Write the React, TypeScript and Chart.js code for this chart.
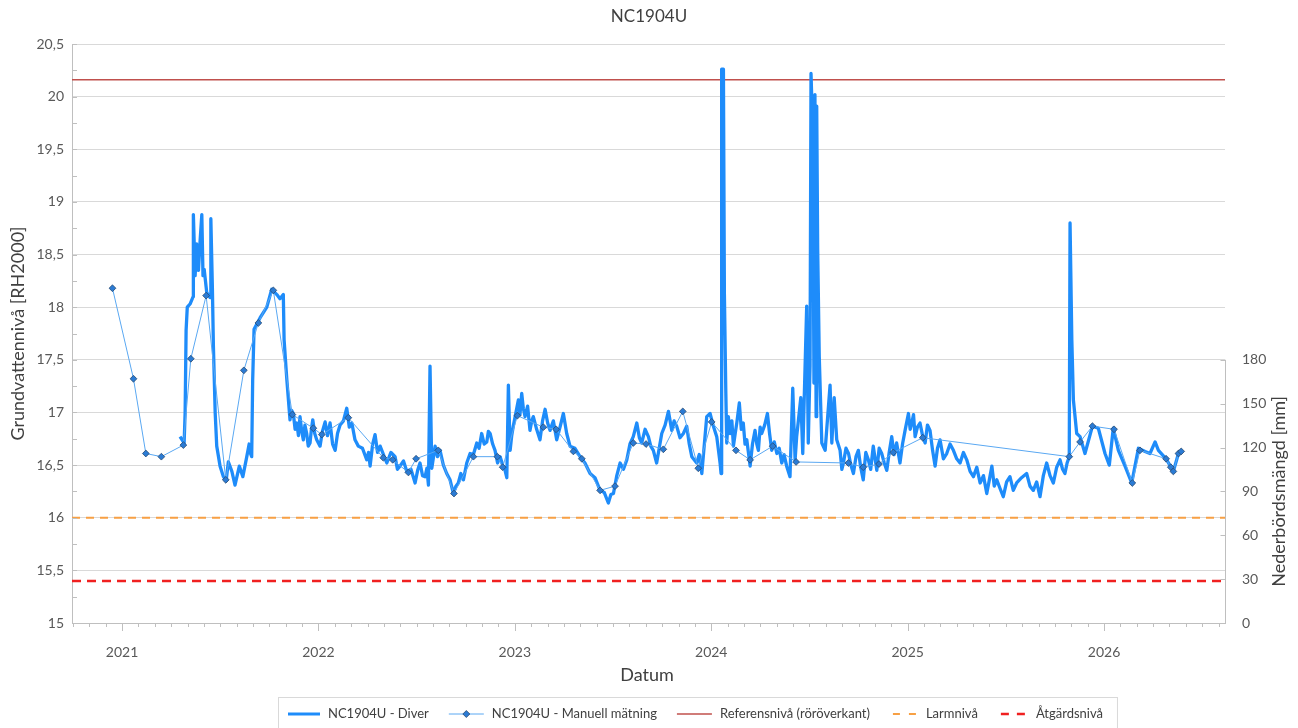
import React, { useEffect, useRef } from "react";
import { Chart, registerables } from "chart.js";
Chart.register(...registerables);

const FONT = "Lato, 'Noto Sans', sans-serif";

const chartTitle = "NC1904U";
const yTitle = "Grundvattennivå [RH2000]";
const y2Title = "Nederbördsmängd [mm]";
const xTitle = "Datum";
const seriesNames = [
  "NC1904U - Diver",
  "NC1904U - Manuell mätning",
  "Referensnivå (röröverkant)",
  "Larmnivå",
  "Åtgärdsnivå",
];

const xMin = 2020.745;
const xMax = 2026.616;
const yMin = 15;
const yMax = 20.5;
const y2Min = 0;
const y2Max = 396;
const yearLabels = [2021, 2022, 2023, 2024, 2025, 2026];
const y2Ticks = [0, 30, 60, 90, 120, 150, 180];

const referensLevel = 20.16;
const larmLevel = 16.0;
const atgardLevel = 15.4;

// Diver (logger) series, decimal year / level
const d21T = [2021.295,2021.316,2021.321,2021.326,2021.332,2021.346,2021.362,2021.363,2021.372,2021.380,2021.389,2021.397,2021.406,2021.412,2021.418,2021.431,2021.448,2021.452,2021.460,2021.465,2021.474,2021.482,2021.499,2021.516,2021.530,2021.541,2021.559,2021.575,2021.597,2021.615,2021.635,2021.647,2021.652,2021.660,2021.665,2021.672,2021.703,2021.737,2021.762,2021.788,2021.804,2021.821,2021.825,2021.839,2021.855,2021.863,2021.872,2021.881,2021.890,2021.898,2021.906,2021.915,2021.923,2021.931,2021.940,2021.948,2021.957,2021.964,2021.971,2021.981,2021.991];
const d21V = [16.77,16.71,17.00,17.78,18.00,18.03,18.10,18.88,18.30,18.60,18.35,18.62,18.88,18.30,18.36,18.14,18.09,18.84,18.17,17.63,17.00,16.68,16.49,16.39,16.35,16.53,16.44,16.31,16.49,16.39,16.58,16.70,16.62,16.58,17.31,17.79,17.90,18.00,18.17,18.12,18.08,18.12,17.69,17.31,16.93,17.02,16.99,16.84,16.90,16.78,16.96,16.82,16.74,16.88,16.80,16.68,16.71,16.84,16.93,16.80,16.74];

const d22T = [2022.008,2022.020,2022.034,2022.046,2022.059,2022.072,2022.085,2022.097,2022.110,2022.127,2022.144,2022.157,2022.170,2022.186,2022.203,2022.224,2022.246,2022.255,2022.263,2022.276,2022.288,2022.301,2022.314,2022.331,2022.348,2022.369,2022.390,2022.402,2022.415,2022.433,2022.450,2022.471,2022.492,2022.505,2022.517,2022.530,2022.543,2022.552,2022.560,2022.568,2022.577,2022.594,2022.606,2022.619,2022.636,2022.653,2022.670,2022.687,2022.700,2022.712,2022.725,2022.738,2022.755,2022.772,2022.789,2022.806,2022.818,2022.831,2022.844,2022.857,2022.865,2022.874,2022.887,2022.899,2022.912,2022.925,2022.938,2022.950,2022.959,2022.967,2022.976,2022.984,2022.992];
const d22V = [16.68,16.82,16.91,16.78,16.90,16.70,16.64,16.80,16.88,16.92,17.04,16.86,16.90,16.74,16.68,16.66,16.55,16.62,16.49,16.70,16.79,16.62,16.68,16.60,16.52,16.62,16.58,16.46,16.49,16.54,16.44,16.46,16.33,16.45,16.52,16.40,16.39,16.47,16.31,17.44,16.47,16.68,16.58,16.64,16.50,16.42,16.36,16.23,16.30,16.33,16.42,16.36,16.52,16.61,16.60,16.71,16.66,16.80,16.70,16.72,16.82,16.80,16.70,16.64,16.52,16.58,16.50,16.45,16.38,17.26,16.64,16.78,16.87];

const d23T = [2023.018,2023.026,2023.035,2023.043,2023.052,2023.065,2023.077,2023.086,2023.094,2023.111,2023.128,2023.141,2023.154,2023.167,2023.179,2023.196,2023.213,2023.230,2023.247,2023.264,2023.281,2023.306,2023.332,2023.357,2023.383,2023.408,2023.434,2023.455,2023.476,2023.489,2023.502,2023.519,2023.536,2023.553,2023.570,2023.586,2023.603,2023.621,2023.634,2023.646,2023.663,2023.680,2023.692,2023.705,2023.722,2023.735,2023.748,2023.765,2023.782,2023.799,2023.811,2023.824,2023.841,2023.858,2023.875,2023.888,2023.901,2023.926,2023.939,2023.952,2023.977,2023.994];
const d23V = [17.12,16.98,17.18,17.04,16.96,17.06,16.83,16.92,16.96,16.84,16.74,16.92,17.03,16.90,16.83,16.92,16.74,16.86,16.99,16.80,16.68,16.66,16.58,16.52,16.42,16.38,16.26,16.24,16.14,16.22,16.23,16.40,16.52,16.46,16.55,16.70,16.77,16.90,16.76,16.71,16.84,16.77,16.68,16.64,16.52,16.66,16.80,16.88,17.01,16.83,16.92,16.87,16.76,16.80,16.87,16.70,16.58,16.52,16.60,16.42,16.96,16.99];

const d24T = [2024.011,2024.028,2024.045,2024.050,2024.053,2024.062,2024.067,2024.074,2024.079,2024.087,2024.096,2024.105,2024.113,2024.122,2024.130,2024.143,2024.153,2024.163,2024.172,2024.181,2024.198,2024.210,2024.223,2024.232,2024.240,2024.249,2024.257,2024.272,2024.286,2024.297,2024.308,2024.321,2024.334,2024.346,2024.359,2024.371,2024.384,2024.401,2024.415,2024.427,2024.435,2024.456,2024.466,2024.486,2024.494,2024.503,2024.508,2024.517,2024.523,2024.528,2024.534,2024.537,2024.542,2024.550,2024.563,2024.580,2024.605,2024.614,2024.626,2024.639,2024.656,2024.665,2024.673,2024.686,2024.699,2024.711,2024.724,2024.737,2024.749,2024.761,2024.774,2024.787,2024.800,2024.812,2024.825,2024.843,2024.855,2024.868,2024.881,2024.894,2024.906,2024.919,2024.931,2024.944,2024.961,2024.974,2024.987];
const d24V = [16.87,16.77,16.52,16.42,20.26,20.26,18.12,17.21,16.71,16.96,16.80,16.92,16.68,16.80,16.90,17.09,16.84,16.90,16.70,16.74,16.49,16.70,16.83,16.70,16.64,16.86,16.80,16.88,16.99,16.80,16.64,16.72,16.61,16.66,16.52,16.60,16.49,16.39,17.23,16.55,16.77,17.14,16.61,18.01,16.71,17.44,20.22,19.65,17.28,20.02,16.96,19.91,18.55,17.53,16.71,16.64,17.26,16.71,17.14,16.74,16.64,16.46,16.52,16.66,16.61,16.50,16.42,16.58,16.64,16.48,16.36,16.62,16.55,16.46,16.68,16.45,16.66,16.61,16.52,16.45,16.62,16.77,16.60,16.71,16.52,16.70,16.83];

const d25T = [2025.004,2025.013,2025.021,2025.030,2025.038,2025.050,2025.063,2025.076,2025.089,2025.101,2025.114,2025.127,2025.140,2025.152,2025.165,2025.182,2025.199,2025.216,2025.233,2025.250,2025.267,2025.284,2025.301,2025.318,2025.335,2025.352,2025.369,2025.386,2025.403,2025.416,2025.429,2025.441,2025.454,2025.470,2025.487,2025.504,2025.521,2025.538,2025.555,2025.580,2025.606,2025.623,2025.640,2025.657,2025.674,2025.691,2025.708,2025.725,2025.742,2025.759,2025.776,2025.789,2025.801,2025.812,2025.823,2025.827,2025.836,2025.844,2025.861,2025.878,2025.903,2025.941,2025.971];
const d25V = [16.99,16.84,16.90,16.98,16.77,16.86,16.90,16.78,16.71,16.88,16.83,16.64,16.49,16.66,16.74,16.56,16.61,16.70,16.64,16.56,16.52,16.62,16.55,16.44,16.39,16.48,16.33,16.40,16.23,16.36,16.49,16.30,16.36,16.28,16.20,16.34,16.39,16.26,16.33,16.38,16.42,16.30,16.26,16.34,16.20,16.40,16.52,16.40,16.33,16.48,16.55,16.46,16.42,16.52,16.58,18.80,17.69,17.12,16.80,16.77,16.61,16.87,16.85];

const d26T = [2026.005,2026.027,2026.047,2026.073,2026.107,2026.141,2026.175,2026.209,2026.234,2026.260,2026.277,2026.316,2026.353,2026.379,2026.396];
const d26V = [16.61,16.50,16.85,16.64,16.49,16.33,16.66,16.63,16.61,16.72,16.64,16.56,16.44,16.61,16.64];

// Manual measurements
const manualT = [2020.951,2021.058,2021.121,2021.200,2021.312,2021.350,2021.428,2021.528,2021.620,2021.694,2021.770,2021.867,2021.974,2022.017,2022.152,2022.330,2022.378,2022.458,2022.497,2022.610,2022.690,2022.789,2022.911,2022.938,2023.013,2023.145,2023.210,2023.298,2023.341,2023.434,2023.510,2023.603,2023.668,2023.756,2023.855,2023.934,2024.002,2024.126,2024.198,2024.313,2024.432,2024.698,2024.774,2024.854,2024.927,2025.077,2025.823,2025.878,2025.941,2026.051,2026.144,2026.183,2026.316,2026.340,2026.353,2026.379,2026.393];
const manualV = [18.18,17.32,16.61,16.58,16.69,17.51,18.11,16.36,17.40,17.85,18.16,16.98,16.85,16.79,16.95,16.57,16.55,16.43,16.56,16.64,16.23,16.58,16.58,16.48,16.97,16.86,16.84,16.63,16.56,16.26,16.30,16.71,16.70,16.65,17.01,16.47,16.91,16.64,16.55,16.68,16.53,16.52,16.48,16.51,16.62,16.76,16.58,16.72,16.87,16.84,16.33,16.64,16.56,16.48,16.44,16.61,16.63];

const C_DIVER = "#1E8CFA";
const C_MAN_LINE = "#5AA8F2";
const C_MAN_FILL = "#2B7BD4";
const C_MAN_EDGE = "#2A4A70";
const C_REF = "#C0504D";
const C_LARM = "#F7A044";
const C_ATG = "#F02020";
const C_GRID = "#D9D9D9";
const C_AXIS = "#BFBFBF";
const C_TICK = "#595959";
const C_TEXT = "#404040";

const zip = (t: number[], v: number[]) => t.map((x, i) => ({ x, y: v[i] }));
const diverData = [
  ...zip(d21T, d21V), ...zip(d22T, d22V), ...zip(d23T, d23V),
  ...zip(d24T, d24V), ...zip(d25T, d25V), ...zip(d26T, d26V),
];
const manualData = zip(manualT, manualV);
const levelData = (lvl: number) => [{ x: xMin, y: lvl }, { x: xMax, y: lvl }];

function drawLegend(ctx: CanvasRenderingContext2D) {
  const cy = 714;
  ctx.save();
  ctx.font = `13px ${FONT}`;
  ctx.textBaseline = "middle";
  const sampleW = [32, 35, 35, 28, 30];
  const gapText = 8;
  const gapNext = 20;
  let x = 288;
  const starts: number[] = [];
  for (let i = 0; i < seriesNames.length; i++) {
    starts.push(x);
    x += sampleW[i] + gapText + ctx.measureText(seriesNames[i]).width + gapNext;
  }
  const right = x - gapNext + 14;
  ctx.strokeStyle = C_GRID;
  ctx.lineWidth = 1;
  ctx.strokeRect(278.5, 697.5, right - 278, 40);

  const line = (x0: number, x1: number, color: string, w: number, dash: number[] = []) => {
    ctx.beginPath();
    ctx.setLineDash(dash);
    ctx.strokeStyle = color;
    ctx.lineWidth = w;
    ctx.moveTo(x0, cy);
    ctx.lineTo(x1, cy);
    ctx.stroke();
    ctx.setLineDash([]);
  };
  line(starts[0], starts[0] + sampleW[0], C_DIVER, 3);
  line(starts[1], starts[1] + sampleW[1], C_MAN_LINE, 1);
  const mx = starts[1] + sampleW[1] / 2;
  ctx.beginPath();
  ctx.moveTo(mx, cy - 3.5); ctx.lineTo(mx + 3.5, cy); ctx.lineTo(mx, cy + 3.5); ctx.lineTo(mx - 3.5, cy); ctx.closePath();
  ctx.fillStyle = C_MAN_FILL; ctx.fill();
  ctx.strokeStyle = C_MAN_EDGE; ctx.lineWidth = 0.8; ctx.stroke();
  line(starts[2], starts[2] + sampleW[2], C_REF, 1.5);
  line(starts[3] + 3, starts[3] + sampleW[3], C_LARM, 2, [7, 9]);
  line(starts[4] + 3, starts[4] + sampleW[4], C_ATG, 2.5, [8, 8]);
  ctx.fillStyle = C_TEXT;
  ctx.textAlign = "left";
  for (let i = 0; i < seriesNames.length; i++) {
    ctx.fillText(seriesNames[i], starts[i] + sampleW[i] + gapText, cy);
  }
  ctx.restore();
}

const decor = {
  id: "decor",
  afterDraw(chart: any) {
    const { ctx, chartArea: ca, scales } = chart;
    const xs = scales.x, ys = scales.y, y2 = scales.y2;
    ctx.save();
    ctx.strokeStyle = C_AXIS;
    ctx.lineWidth = 1;
    for (const t of ys.ticks) {
      const py = Math.round(ys.getPixelForValue(t.value)) + 0.5;
      ctx.beginPath(); ctx.moveTo(ca.left, py); ctx.lineTo(ca.left + 5, py); ctx.stroke();
    }
    for (const t of xs.ticks) {
      const px = Math.round(xs.getPixelForValue(t.value)) + 0.5;
      const major = Math.abs(t.value - Math.round(t.value)) < 1e-6;
      ctx.beginPath(); ctx.moveTo(px, ca.bottom); ctx.lineTo(px, ca.bottom + (major ? 8 : 4)); ctx.stroke();
    }
    const rx = Math.round(ca.right) + 0.5;
    const topR = y2.getPixelForValue(y2Ticks[y2Ticks.length - 1]);
    const botR = y2.getPixelForValue(y2Ticks[0]);
    ctx.beginPath(); ctx.moveTo(rx, topR); ctx.lineTo(rx, botR); ctx.stroke();
    for (const v of y2Ticks) {
      const py = Math.round(y2.getPixelForValue(v)) + 0.5;
      ctx.beginPath(); ctx.moveTo(rx - 5, py); ctx.lineTo(rx, py); ctx.stroke();
    }
    ctx.fillStyle = C_TEXT;
    ctx.textAlign = "center";
    ctx.textBaseline = "middle";
    ctx.font = `17px ${FONT}`;
    ctx.fillText(chartTitle, 649, 17);
    ctx.font = `18px ${FONT}`;
    ctx.fillText(xTitle, 647, 675);
    ctx.save();
    ctx.translate(18, (ca.top + ca.bottom) / 2);
    ctx.rotate(-Math.PI / 2);
    ctx.fillText(yTitle, 0, 0);
    ctx.restore();
    ctx.save();
    ctx.translate(1279, (topR + botR) / 2);
    ctx.rotate(-Math.PI / 2);
    ctx.fillText(y2Title, 0, 0);
    ctx.restore();
    ctx.restore();
    drawLegend(ctx);
  },
};

export default function App() {
  const ref = useRef<HTMLCanvasElement>(null);
  useEffect(() => {
    if (!ref.current) return;
    const tickFont = { family: FONT, size: 14 };
    const chart = new Chart(ref.current, {
      type: "line",
      data: {
        datasets: [
          {
            label: seriesNames[1], data: manualData, order: 0,
            borderColor: C_MAN_LINE, borderWidth: 1, pointStyle: "rectRot",
            pointRadius: 3.4, pointBackgroundColor: C_MAN_FILL, pointBorderColor: C_MAN_EDGE,
            pointBorderWidth: 0.8, tension: 0,
          },
          {
            label: seriesNames[0], data: diverData, order: 1,
            borderColor: C_DIVER, borderWidth: 3.3, pointRadius: 0, tension: 0,
            borderJoinStyle: "round",
          },
          {
            label: seriesNames[2], data: levelData(referensLevel), order: 2,
            borderColor: C_REF, borderWidth: 1.5, pointRadius: 0,
          },
          {
            label: seriesNames[3], data: levelData(larmLevel), order: 2,
            borderColor: C_LARM, borderWidth: 1.8, borderDash: [8, 6], pointRadius: 0,
          },
          {
            label: seriesNames[4], data: levelData(atgardLevel), order: 2,
            borderColor: C_ATG, borderWidth: 2.5, borderDash: [9, 6], pointRadius: 0,
          },
        ],
      },
      options: {
        responsive: false,
        animation: false,
        layout: { padding: { top: 44, left: 0, right: 0, bottom: 0 } },
        plugins: { legend: { display: false }, tooltip: { enabled: false }, title: { display: false } },
        scales: {
          x: {
            type: "linear", min: xMin, max: xMax,
            afterBuildTicks: (s: any) => {
              const arr: any[] = [];
              for (let yr = 2020; yr <= 2026; yr++)
                for (let m = 0; m < 12; m++) {
                  const v = yr + m / 12;
                  if (v >= xMin && v <= xMax) arr.push({ value: v });
                }
              s.ticks = arr;
            },
            afterFit: (s: any) => { s.height = 105; },
            ticks: {
              autoSkip: false, maxRotation: 0, minRotation: 0, padding: 13,
              color: C_TICK, font: tickFont,
              callback: (v: any) => {
                const n = Number(v); const r = Math.round(n);
                return Math.abs(n - r) < 1e-6 && yearLabels.includes(r) ? String(r) : "";
              },
            },
            grid: { display: false },
            border: { display: true, color: C_AXIS, width: 1 },
          },
          y: {
            type: "linear", position: "left", min: yMin, max: yMax,
            afterBuildTicks: (s: any) => {
              const a: any[] = [];
              for (let v = yMin; v <= yMax + 1e-9; v += 0.25) a.push({ value: Math.round(v * 100) / 100 });
              s.ticks = a;
            },
            afterFit: (s: any) => { s.width = 72; },
            ticks: {
              autoSkip: false, padding: 8, color: C_TICK, font: tickFont,
              callback: (v: any) => {
                const n = Number(v);
                return Math.abs(n * 2 - Math.round(n * 2)) < 1e-6 ? String(n).replace(".", ",") : "";
              },
            },
            grid: {
              drawTicks: false, lineWidth: 1,
              color: (c: any) => {
                const v = c.tick ? c.tick.value : 0;
                return Math.abs(v * 2 - Math.round(v * 2)) < 1e-6 ? C_GRID : "rgba(0,0,0,0)";
              },
            },
            border: { display: true, color: C_AXIS, width: 1 },
          },
          y2: {
            type: "linear", position: "right", min: y2Min, max: y2Max,
            afterBuildTicks: (s: any) => { s.ticks = y2Ticks.map((value) => ({ value })); },
            afterFit: (s: any) => { s.width = 73; },
            ticks: { autoSkip: false, padding: 9, color: C_TICK, font: tickFont },
            grid: { display: false, drawOnChartArea: false },
            border: { display: false },
          },
        },
      } as any,
      plugins: [decor],
    });
    return () => chart.destroy();
  }, []);
  return (
    <div style={{ position: "absolute", left: 0, top: 0, width: 1298, height: 728, background: "#fff" }}>
      <canvas ref={ref} width={1298} height={728} style={{ display: "block" }} />
    </div>
  );
}
